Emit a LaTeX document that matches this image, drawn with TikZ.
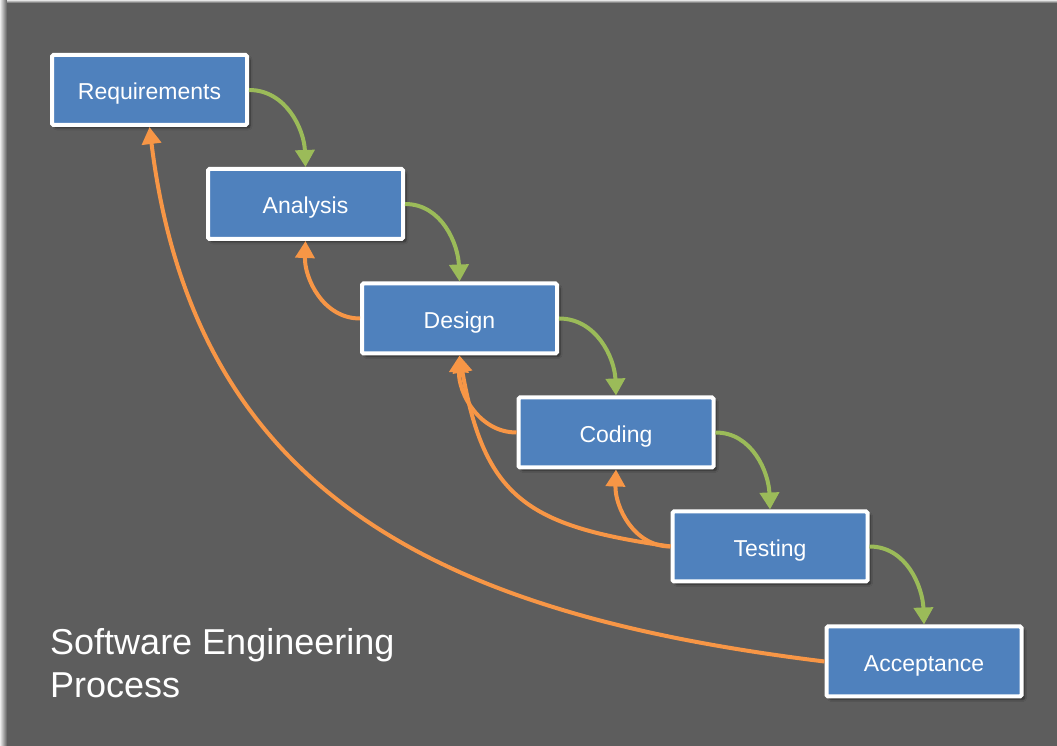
\documentclass[tikz,border=0pt]{standalone}
\usepackage{fontspec}
\setmainfont{Liberation Sans}
\usetikzlibrary{arrows.meta,shadows.blur}
\definecolor{bgray}{HTML}{5D5D5D}
\definecolor{boxblue}{HTML}{4F81BD}
\definecolor{fwdgreen}{HTML}{9BBB59}
\definecolor{backorange}{HTML}{F79646}
\tikzset{
  stage/.style={draw=white, line width=4pt, fill=boxblue, rounded corners=1.5pt,
    minimum width=195pt, minimum height=70pt, text=white,
    text height=22pt, text depth=2pt,
    font=\fontsize{23}{27}\selectfont,
    blur shadow={shadow xshift=3pt, shadow yshift=-3pt, shadow blur steps=6,
      shadow blur extra rounding=2pt, shadow opacity=50}},
  fwd/.style={draw=fwdgreen, line width=4pt,
    -{Triangle[width=19pt,length=17pt]}},
  back/.style={draw=backorange, line width=4pt,
    -{Triangle[width=19pt,length=17pt]}},
}
\begin{document}
\begin{tikzpicture}[x=1pt,y=1pt]
  % canvas
  \fill[bgray] (0,0) rectangle (1057,746);
  \shade[left color=gray!15, right color=bgray] (0,0) rectangle (7,746);
  \shade[top color=gray!20, bottom color=bgray] (7,743) rectangle (1057,746);
  \useasboundingbox (0,0) rectangle (1057,746);

  % stages of the process
  \node[stage] (req) at (149.5,656)   {Requirements};
  \node[stage] (ana) at (305.5,542)   {Analysis};
  \node[stage] (des) at (459.5,427.5) {Design};
  \node[stage] (cod) at (616,313.5)   {Coding};
  \node[stage] (tes) at (770,199.5)   {Testing};
  \node[stage] (acc) at (924,84.5)    {Acceptance};

  % forward flow
  \draw[fwd] (req.east) to[out=0,in=92] (ana.north);
  \draw[fwd] (ana.east) to[out=0,in=92] (des.north);
  \draw[fwd] (des.east) to[out=0,in=92] (cod.north);
  \draw[fwd] (cod.east) to[out=0,in=92] (tes.north);
  \draw[fwd] (tes.east) to[out=0,in=92] (acc.north);

  % feedback loops
  \draw[back] (des.west) to[out=180,in=-92] (ana.south);
  \draw[back] (cod.west) to[out=180,in=-92] (des.south);
  \draw[back] (tes.west) to[out=180,in=-92] (cod.south);
  \draw[back] (tes.west) to[out=172,in=-80,looseness=1.3] (des.south);
  \draw[back] (acc.west) to[out=173,in=-83,looseness=1.12] (req.south);

  % caption
  \node[anchor=base west, align=left, inner sep=0pt, text=white,
        font=\fontsize{36}{43}\selectfont] (title) at (50,48)
        {Software Engineering\\Process};
\end{tikzpicture}
\end{document}
